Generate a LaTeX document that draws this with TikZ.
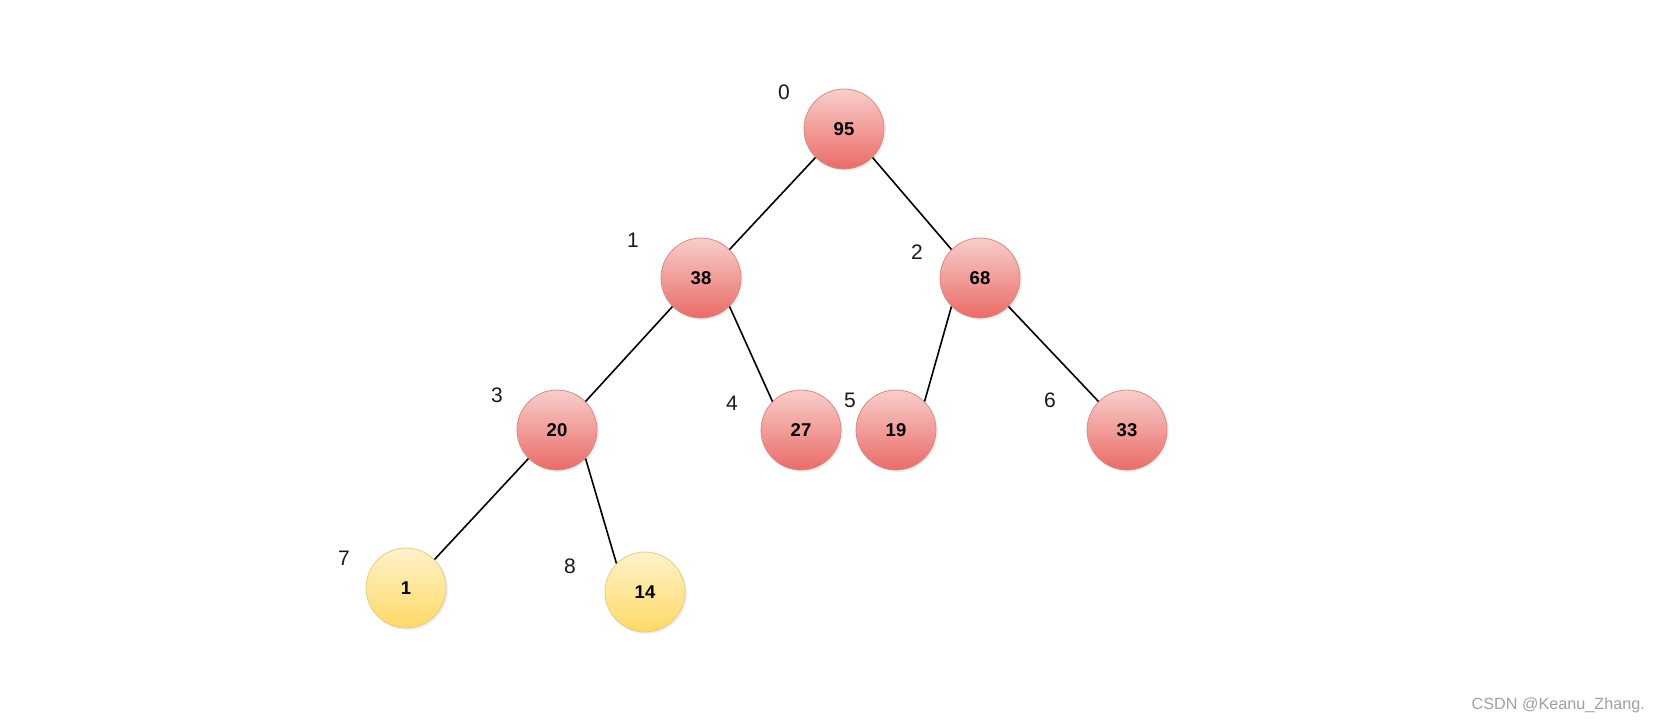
\documentclass[tikz,border=0pt]{standalone}
\usepackage{fontspec}
\setmainfont{Liberation Sans}
\usetikzlibrary{shadows}
\definecolor{redtop}{HTML}{F8CECC}
\definecolor{redbot}{HTML}{EA6B66}
\definecolor{redline}{HTML}{D98A87}
\definecolor{yeltop}{HTML}{FFF2CC}
\definecolor{yelbot}{HTML}{FFD966}
\definecolor{yelline}{HTML}{E6CD80}
\definecolor{wmgray}{HTML}{A0A0A0}
\tikzset{
  heapnode/.style={circle, minimum size=80pt, inner sep=0pt, line width=0.8pt,
    font=\fontsize{18.5}{20}\selectfont\bfseries,
    drop shadow={opacity=0.12, shadow xshift=2pt, shadow yshift=-2pt}},
  rednode/.style={heapnode, draw=redline, top color=redtop, bottom color=redbot},
  yelnode/.style={heapnode, draw=yelline, top color=yeltop, bottom color=yelbot},
  idx/.style={font=\fontsize{21}{23}\selectfont, text=black!90, inner sep=0pt},
  link/.style={line width=1.6pt, black}
}
\begin{document}
\begin{tikzpicture}[x=1pt,y=-1pt]
\useasboundingbox (0,0) rectangle (1661,726);
\fill[white] (0,0) rectangle (1661,726);
% nodes
\node[rednode] (n95) at (844,129) {95};
\node[rednode] (n38) at (701,278) {38};
\node[rednode] (n68) at (980,278) {68};
\node[rednode] (n20) at (557,430) {20};
\node[rednode] (n27) at (801,430) {27};
\node[rednode] (n19) at (896,430) {19};
\node[rednode] (n33) at (1127,430) {33};
\node[yelnode] (n1) at (406,588) {1};
\node[yelnode] (n14) at (645,592) {14};
% index labels
\node[idx] (l0) at (784,92) {0};
\node[idx] (l1) at (633,240) {1};
\node[idx] (l2) at (917,252) {2};
\node[idx] (l3) at (497,395) {3};
\node[idx] (l4) at (732,403) {4};
\node[idx] (l5) at (850,400) {5};
\node[idx] (l6) at (1050,400) {6};
\node[idx] (l7) at (344,558) {7};
\node[idx] (l8) at (570,566) {8};
% edges
\draw[link] (n95.225) -- (n38.45);
\draw[link] (n95.315) -- (n68.135);
\draw[link] (n38.225) -- (n20.45);
\draw[link] (n38.315) -- (n27.135);
\draw[link] (n68.225) -- (n19.45);
\draw[link] (n68.315) -- (n33.135);
\draw[link] (n20.225) -- (n1.45);
\draw[link] (n20.315) -- (n14.135);
% watermark
\node[font=\fontsize{16.2}{18}\selectfont, text=wmgray, anchor=east, inner sep=0pt] (wm) at (1645,705) {CSDN @Keanu\_Zhang.};
\end{tikzpicture}
\end{document}
